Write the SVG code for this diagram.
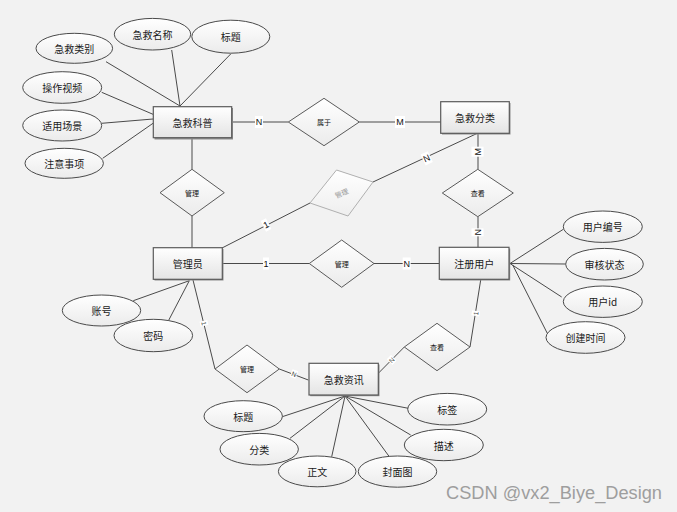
<svg xmlns="http://www.w3.org/2000/svg" width="677" height="512" viewBox="0 0 677 512">
<defs>
<linearGradient id="gE" x1="0" y1="0" x2="0" y2="1"><stop offset="0" stop-color="#ffffff"/><stop offset="1" stop-color="#e4e4e4"/></linearGradient>
<linearGradient id="gD" x1="0" y1="0" x2="0" y2="1"><stop offset="0" stop-color="#ffffff"/><stop offset="1" stop-color="#ebebeb"/></linearGradient>
<linearGradient id="gG" x1="0" y1="0" x2="0" y2="1"><stop offset="0" stop-color="#ffffff"/><stop offset="1" stop-color="#eeeeee"/></linearGradient>
<style>
.bg{fill:#f2f2f2}
.ln{stroke:#4a4a4a;stroke-width:1;fill:none}
.ent{fill:url(#gE);stroke:#5a5a5a;stroke-width:1.2}
.sh{fill:#8c8c8c}
.rel{fill:url(#gD);stroke:#5a5a5a;stroke-width:1}
.relg{fill:url(#gG);stroke:#b0b0b0;stroke-width:1}
.att{fill:url(#gD);stroke:#4a4a4a;stroke-width:1}
.t{font-family:"Noto Sans CJK SC","Liberation Sans",sans-serif;font-size:10px;fill:#1a1a1a;text-anchor:middle;dominant-baseline:central}
.ts{font-family:"Noto Sans CJK SC","Liberation Sans",sans-serif;font-size:7px;fill:#111;text-anchor:middle;dominant-baseline:central}
.tg{font-family:"Noto Sans CJK SC","Liberation Sans",sans-serif;font-size:7px;fill:#9a9a9a;text-anchor:middle;dominant-baseline:central}
.lb{font-family:"Liberation Sans",sans-serif;font-size:9px;fill:#111;text-anchor:middle;dominant-baseline:central}
.lbs{font-family:"Liberation Sans",sans-serif;font-size:6.5px;fill:#333;text-anchor:middle;dominant-baseline:central}
.lbb{fill:#ffffff}
.wm{font-family:"Liberation Sans",sans-serif;font-size:17.5px;fill:#9e9e9e}
</style>
</defs>
<rect class="bg" x="0" y="0" width="677" height="512"/>

<g id="connectors">
<line class="ln" x1="106" y1="61.7" x2="180" y2="106"/>
<line class="ln" x1="171.7" y1="50" x2="180" y2="106"/>
<line class="ln" x1="230.7" y1="54" x2="180" y2="106"/>
<line class="ln" x1="101.7" y1="92.3" x2="153" y2="114.3"/>
<line class="ln" x1="101.7" y1="123.3" x2="153" y2="119"/>
<line class="ln" x1="102.7" y1="158.3" x2="153" y2="123.3"/>
<line class="ln" x1="232" y1="122" x2="288.3" y2="122"/>
<line class="ln" x1="359.3" y1="122" x2="441" y2="122"/>
<line class="ln" x1="192" y1="138" x2="192" y2="169.3"/>
<line class="ln" x1="192" y1="216" x2="192" y2="248"/>
<line class="ln" x1="222" y1="248" x2="310" y2="203"/>
<line class="ln" x1="373" y1="182" x2="478" y2="133"/>
<line class="ln" x1="478" y1="133" x2="478" y2="169.3"/>
<line class="ln" x1="478" y1="216.7" x2="478" y2="247.3"/>
<line class="ln" x1="222.3" y1="263.5" x2="309.3" y2="263.5"/>
<line class="ln" x1="374" y1="263.5" x2="439.3" y2="263.5"/>
<line class="ln" x1="510" y1="263.5" x2="563.3" y2="229.3"/>
<line class="ln" x1="510" y1="263.5" x2="565.7" y2="264"/>
<line class="ln" x1="510" y1="263.5" x2="561.7" y2="297"/>
<line class="ln" x1="512.7" y1="265" x2="547.3" y2="333.3"/>
<line class="ln" x1="480.7" y1="280" x2="470" y2="347"/>
<line class="ln" x1="404.3" y1="347" x2="378.3" y2="373.3"/>
<line class="ln" x1="193" y1="280" x2="215" y2="369"/>
<line class="ln" x1="279.3" y1="369" x2="308.3" y2="380"/>
<line class="ln" x1="345" y1="396" x2="282.3" y2="416.7"/>
<line class="ln" x1="345" y1="396" x2="290" y2="438.3"/>
<line class="ln" x1="345" y1="396" x2="331.7" y2="456.7"/>
<line class="ln" x1="345" y1="396" x2="389.3" y2="456.7"/>
<line class="ln" x1="345" y1="396" x2="410.7" y2="435"/>
<line class="ln" x1="345" y1="396" x2="408.3" y2="408.3"/>
<line class="ln" x1="189.3" y1="280.7" x2="133.3" y2="300.7"/>
<line class="ln" x1="189.3" y1="280.7" x2="168.3" y2="321"/>
<g id="cardinalities">
<rect class="lbb" x="255" y="116" width="8" height="12"/><text class="lb" x="259" y="122">N</text>
<rect class="lbb" x="395" y="116" width="10" height="12"/><text class="lb" x="400" y="122">M</text>
<g transform="translate(266,225) rotate(-27)"><rect class="lbb" x="-3" y="-6" width="6" height="12"/><text class="lb" x="0" y="0">1</text></g>
<g transform="translate(426.7,158.3) rotate(-25)"><rect class="lbb" x="-4" y="-6" width="8" height="12"/><text class="lb" x="0" y="0">N</text></g>
<g transform="translate(477.5,151.7) rotate(-90)"><rect class="lbb" x="-5" y="-6" width="10" height="12"/><text class="lb" x="0" y="0">M</text></g>
<g transform="translate(477.5,232.3) rotate(-90)"><rect class="lbb" x="-4" y="-6" width="8" height="12"/><text class="lb" x="0" y="0">N</text></g>
<rect class="lbb" x="263" y="257.5" width="6" height="12"/><text class="lb" x="266" y="263.5">1</text>
<rect class="lbb" x="402.7" y="257.5" width="8" height="12"/><text class="lb" x="406.7" y="263.5">N</text>
<g transform="translate(475.7,313.3) rotate(-81)"><rect class="lbb" x="-2.5" y="-4" width="5" height="8"/><text class="lbs" x="0" y="0">1</text></g>
<g transform="translate(391.7,360) rotate(-45)"><rect class="lbb" x="-3" y="-4" width="6" height="8"/><text class="lbs" x="0" y="0">N</text></g>
<g transform="translate(204,323.3) rotate(76)"><rect class="lbb" x="-2.5" y="-4" width="5" height="8"/><text class="lbs" x="0" y="0">1</text></g>
<g transform="translate(294,374) rotate(21)"><rect class="lbb" x="-3" y="-4" width="6" height="8"/><text class="lbs" x="0" y="0">N</text></g>
</g>
</g>

<g id="e-kepu"><rect class="sh" x="154.5" y="108" width="78.5" height="31.5"/><rect class="ent" x="153.3" y="106.7" width="78.4" height="31"/><text class="t" x="192.5" y="122.2">急救科普</text></g>
<g id="e-fenlei"><rect class="sh" x="442" y="103" width="68.5" height="31.5"/><rect class="ent" x="440.7" y="101.7" width="68.6" height="31.6"/><text class="t" x="475" y="117.5">急救分类</text></g>
<g id="e-admin"><rect class="sh" x="154.5" y="249" width="69" height="31.5"/><rect class="ent" x="153.3" y="247.7" width="69" height="31.6"/><text class="t" x="187.8" y="263.5">管理员</text></g>
<g id="e-user"><rect class="sh" x="440.5" y="248.5" width="69.7" height="32"/><rect class="ent" x="439.3" y="247.3" width="69.7" height="32"/><text class="t" x="474.2" y="263.3">注册用户</text></g>
<g id="e-zixun"><rect class="sh" x="310.2" y="364.5" width="69.3" height="31.7"/><rect class="ent" x="309" y="363.3" width="69.3" height="31.7"/><text class="t" x="343.7" y="379.2">急救资讯</text></g>

<g id="r-shuyu"><polygon class="rel" points="324,98.3 359.3,122 324,145.7 288.3,122"/><text class="ts" x="324" y="122">属于</text></g>
<g id="r-guanli1"><polygon class="rel" points="192,169.3 224.3,192.7 192,216 160,192.7"/><text class="ts" x="192" y="192.7">管理</text></g>
<g id="r-guanli-gray"><polygon class="relg" points="336.5,170 373,182 348,216 310,203"/><text class="tg" x="341.5" y="193" transform="rotate(-22 341.5 193)">管理</text></g>
<g id="r-guanli2"><polygon class="rel" points="341.7,240 374,263.5 341.7,287.3 309.3,263.5"/><text class="ts" x="341.7" y="263.5">管理</text></g>
<g id="r-chakan1"><polygon class="rel" points="477.8,169.3 513.3,193 477.8,216.7 442.3,193"/><text class="ts" x="477.8" y="193">查看</text></g>
<g id="r-guanli3"><polygon class="rel" points="247,345 279.3,369 247,392.7 215,369"/><text class="ts" x="247" y="369">管理</text></g>
<g id="r-chakan2"><polygon class="rel" points="437,323.3 470,347 437,370.7 404.3,347"/><text class="ts" x="437" y="347">查看</text></g>

<g id="a-leibie"><ellipse class="att" cx="74.3" cy="48.3" rx="38.3" ry="15"/><text class="t" x="74.3" y="48.3">急救类别</text></g>
<g id="a-mingcheng"><ellipse class="att" cx="152.5" cy="34.2" rx="38.2" ry="15.8"/><text class="t" x="152.5" y="34.2">急救名称</text></g>
<g id="a-biaoti1"><ellipse class="att" cx="230.8" cy="36.7" rx="39" ry="16.5"/><text class="t" x="230.8" y="36.7">标题</text></g>
<g id="a-shipin"><ellipse class="att" cx="62.2" cy="87.5" rx="39.5" ry="15.8"/><text class="t" x="62.2" y="87.5">操作视频</text></g>
<g id="a-changjing"><ellipse class="att" cx="62.2" cy="125.5" rx="39.5" ry="15.5"/><text class="t" x="62.2" y="125.5">适用场景</text></g>
<g id="a-shixiang"><ellipse class="att" cx="64.2" cy="163.3" rx="39.2" ry="15"/><text class="t" x="64.2" y="163.3">注意事项</text></g>
<g id="a-zhanghao"><ellipse class="att" cx="101.5" cy="310.5" rx="39.2" ry="15.5"/><text class="t" x="101.5" y="310.5">账号</text></g>
<g id="a-mima"><ellipse class="att" cx="153.3" cy="335.5" rx="39.3" ry="16.2"/><text class="t" x="153.3" y="335.5">密码</text></g>
<g id="a-bianhao"><ellipse class="att" cx="602.8" cy="226.7" rx="39.5" ry="15.7"/><text class="t" x="602.8" y="226.7">用户编号</text></g>
<g id="a-zhuangtai"><ellipse class="att" cx="604.5" cy="264.2" rx="38.8" ry="15.8"/><text class="t" x="604.5" y="264.2">审核状态</text></g>
<g id="a-userid"><ellipse class="att" cx="602.8" cy="301.7" rx="39.5" ry="15.7"/><text class="t" x="602.8" y="301.7">用户id</text></g>
<g id="a-shijian"><ellipse class="att" cx="585.5" cy="337.5" rx="39.5" ry="15.8"/><text class="t" x="585.5" y="337.5">创建时间</text></g>
<g id="a-biaoti2"><ellipse class="att" cx="243.2" cy="416.2" rx="39.2" ry="15.5"/><text class="t" x="243.2" y="416.2">标题</text></g>
<g id="a-fenlei"><ellipse class="att" cx="259.2" cy="449.2" rx="39.2" ry="15.8"/><text class="t" x="259.2" y="449.2">分类</text></g>
<g id="a-zhengwen"><ellipse class="att" cx="317.2" cy="471.4" rx="38.8" ry="15.4"/><text class="t" x="317.2" y="471.4">正文</text></g>
<g id="a-fengmian"><ellipse class="att" cx="397.5" cy="471.6" rx="39.2" ry="15.6"/><text class="t" x="397.5" y="471.6">封面图</text></g>
<g id="a-miaoshu"><ellipse class="att" cx="443.8" cy="445" rx="39.5" ry="15.7"/><text class="t" x="443.8" y="445">描述</text></g>
<g id="a-biaoqian"><ellipse class="att" cx="447.2" cy="409.2" rx="39.5" ry="15.8"/><text class="t" x="447.2" y="409.2">标签</text></g>

<text class="wm" x="446" y="498.5" textLength="216" lengthAdjust="spacingAndGlyphs">CSDN @vx2_Biye_Design</text>
</svg>
